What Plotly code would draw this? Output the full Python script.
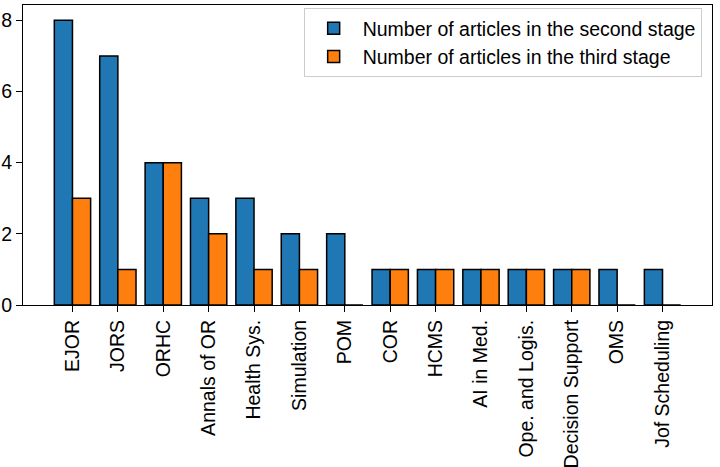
import plotly.graph_objects as go

categories = ["EJOR", "JORS", "ORHC", "Annals of OR", "Health Sys.", "Simulation", "POM",
              "COR", "HCMS", "AI in Med.", "Ope. and Logis.", "Decision Support", "OMS", "Jof Scheduling"]
second_stage = [8, 7, 4, 3, 3, 2, 2, 1, 1, 1, 1, 1, 1, 1]
third_stage = [3, 1, 4, 2, 1, 1, 0, 1, 1, 1, 1, 1, 0, 0]
series_names = ["Number of articles in the second stage", "Number of articles in the third stage"]
y_ticks = [0, 2, 4, 6, 8]

FONT = "Liberation Sans, Arial, sans-serif"
FS = 19.5

fig = go.Figure()
fig.add_trace(go.Bar(x=categories, y=second_stage, name=series_names[0],
                     marker=dict(color="#1f77b4", line=dict(color="black", width=1.5))))
fig.add_trace(go.Bar(x=categories, y=third_stage, name=series_names[1],
                     marker=dict(color="#ff7f0e", line=dict(color="black", width=1.5))))

fig.update_layout(
    width=720, height=467,
    margin=dict(l=23, r=8, t=5, b=162),
    paper_bgcolor="white", plot_bgcolor="white",
    barmode="group", bargap=0.2, bargroupgap=0,
    font=dict(family=FONT, size=FS, color="black"),
    showlegend=True,
    legend=dict(x=0.985, y=0.99, xanchor="right", yanchor="top",
                bgcolor="rgba(255,255,255,0.8)", bordercolor="#cccccc", borderwidth=1,
                font=dict(family=FONT, size=FS, color="black"),
                itemwidth=48, tracegroupgap=0),
)
fig.update_xaxes(
    type="category", range=[-1.09, 14.09], automargin=False,
    showline=True, linecolor="black", linewidth=1.2, mirror=True,
    ticks="outside", ticklen=6, tickcolor="black", tickwidth=1.2,
    tickangle=-90, showgrid=False, tickfont=dict(family=FONT, size=FS),
)
fig.update_yaxes(
    range=[0, 8.43], tickvals=y_ticks, automargin=False,
    showline=True, linecolor="black", linewidth=1.2, mirror=True,
    ticks="outside", ticklen=6, tickcolor="black", tickwidth=1.2,
    showgrid=False, zeroline=False, tickfont=dict(family=FONT, size=FS),
)

fig.write_html("out.html", config={"displayModeBar": False},
               post_script="document.body.style.margin='0';")
